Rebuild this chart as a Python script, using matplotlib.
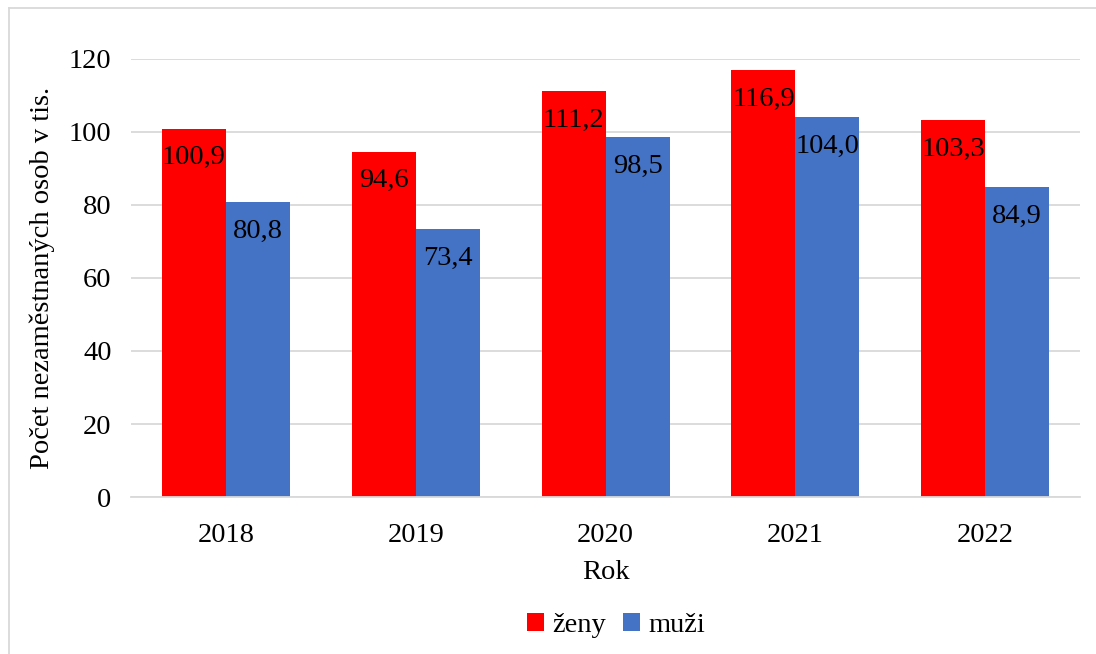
import matplotlib.pyplot as plt
import matplotlib.lines as mlines
import numpy as np

roky = ["2018", "2019", "2020", "2021", "2022"]
zeny = [100.9, 94.6, 111.2, 116.9, 103.3]
muzi = [80.8, 73.4, 98.5, 104.0, 84.9]

plt.rcParams["font.family"] = ["Liberation Serif", "DejaVu Serif"]
fs = 20.5

fig = plt.figure(figsize=(10.96, 6.54), dpi=100)
ax = fig.add_axes([0.1195, 0.240, 0.866, 0.670])

x = np.arange(len(roky))
w = 0.337
b1 = ax.bar(x - w / 2, zeny, w, color="#FF0000", label="ženy", zorder=2)
b2 = ax.bar(x + w / 2, muzi, w, color="#4472C4", label="muži", zorder=2)

for bars, vals in ((b1, zeny), (b2, muzi)):
    for rect, v in zip(bars, vals):
        ax.annotate(f"{v:.1f}".replace(".", ","),
                    (rect.get_x() + rect.get_width() / 2, v),
                    xytext=(0, -12), textcoords="offset points",
                    ha="center", va="top", fontsize=fs, zorder=3)

ax.set_xlim(-0.5, len(roky) - 0.5)
ax.set_ylim(0, 120)
ax.set_yticks(range(0, 121, 20))
ax.set_xticks(x)
ax.set_xticklabels(roky)
ax.tick_params(length=0, labelsize=fs)
ax.tick_params(axis="x", pad=19)
ax.tick_params(axis="y", pad=14)
ax.grid(axis="y", color="#d9d9d9", linewidth=1.3, zorder=0)
for s in ("top", "right", "left"):
    ax.spines[s].set_visible(False)
ax.spines["bottom"].set_color("#d9d9d9")
ax.spines["bottom"].set_linewidth(1.3)

ax.set_xlabel("Rok", fontsize=fs, labelpad=8)
ax.set_ylabel("Počet nezaměstnaných osob v tis.", fontsize=fs, labelpad=10)

fig.legend(handles=[b1, b2], loc="center", bbox_to_anchor=(0.562, 0.044),
           ncol=2, frameon=False, fontsize=fs, handlelength=0.6,
           handleheight=0.6, handletextpad=0.3, columnspacing=0.6)

# light border around the chart (top and left visible)
fig.add_artist(mlines.Line2D([9 / 1096, 1], [1 - 8 / 654, 1 - 8 / 654],
                             transform=fig.transFigure, color="#d9d9d9", lw=1.3))
fig.add_artist(mlines.Line2D([9 / 1096, 9 / 1096], [0, 1 - 8 / 654],
                             transform=fig.transFigure, color="#d9d9d9", lw=1.3))

fig.savefig("out.png", dpi=100)
